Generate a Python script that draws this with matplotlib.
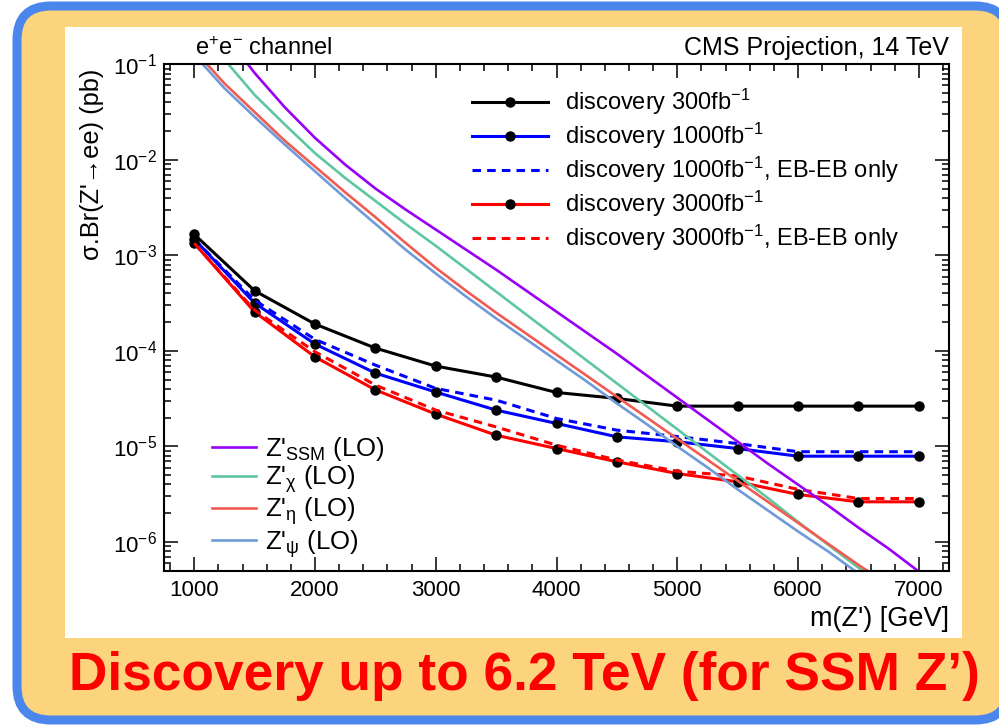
import numpy as np
import matplotlib
matplotlib.use("Agg")
import matplotlib.pyplot as plt
import matplotlib.patches as mpatches
import matplotlib.transforms as mtransforms
from matplotlib.ticker import LogLocator, MultipleLocator, NullFormatter

plt.rcParams['font.family'] = ['Liberation Sans', 'DejaVu Sans']
plt.rcParams['mathtext.fontset'] = 'custom'
plt.rcParams['mathtext.rm'] = 'Liberation Sans'
plt.rcParams['mathtext.it'] = 'Liberation Sans:italic'
plt.rcParams['mathtext.bf'] = 'Liberation Sans:bold'

# discovery reach (pb) vs m(Z')
mass = [1000, 1500, 2000, 2500, 3000, 3500, 4000, 4500, 5000, 5500, 6000, 6500, 7000]
disc_300 = [1.66e-3, 4.26e-4, 1.91e-4, 1.07e-4, 6.93e-5, 5.32e-5, 3.67e-5, 3.18e-5,
            2.64e-5, 2.64e-5, 2.64e-5, 2.64e-5, 2.64e-5]
disc_1000 = [1.48e-3, 3.17e-4, 1.18e-4, 5.86e-5, 3.71e-5, 2.40e-5, 1.74e-5, 1.26e-5,
             1.12e-5, 9.5e-6, 7.9e-6, 7.9e-6, 7.9e-6]
disc_1000_ebeb = [1.48e-3, 3.40e-4, 1.32e-4, 7.1e-5, 4.05e-5, 3.05e-5, 1.96e-5, 1.48e-5,
                  1.27e-5, 1.07e-5, 8.8e-6, 8.8e-6, 8.8e-6]
disc_3000 = [1.34e-3, 2.56e-4, 8.65e-5, 3.91e-5, 2.18e-5, 1.31e-5, 9.5e-6, 6.9e-6,
             5.2e-6, 4.26e-6, 3.14e-6, 2.63e-6, 2.63e-6]
disc_3000_ebeb = [1.34e-3, 2.67e-4, 9.8e-5, 4.39e-5, 2.40e-5, 1.60e-5, 1.03e-5, 7.2e-6,
                  5.5e-6, 4.9e-6, 3.55e-6, 2.85e-6, 2.85e-6]

mass_th = [1000, 1250, 1500, 1750, 2000, 2250, 2500, 2750, 3000, 3250, 3500, 3750, 4000,
           4250, 4500, 4750, 5000, 5250, 5500, 5750, 6000, 6250, 6500, 6750, 7000]
log_ssm = [-0.30, -0.68, -1.09, -1.45, -1.77, -2.05, -2.30, -2.52, -2.73, -2.94, -3.15, -3.37,
           -3.59, -3.81, -4.03, -4.26, -4.49, -4.72, -4.95, -5.18, -5.40, -5.62, -5.85, -6.07, -6.31]
log_chi = [-0.55, -0.95, -1.32, -1.63, -1.93, -2.19, -2.43, -2.67, -2.90, -3.14, -3.38, -3.62,
           -3.86, -4.10, -4.34, -4.58, -4.82, -5.06, -5.30, -5.54, -5.79, -6.03, -6.27, -6.51, -6.75]
log_eta = [-0.85, -1.20, -1.50, -1.80, -2.07, -2.34, -2.60, -2.87, -3.13, -3.37, -3.60, -3.82,
           -4.04, -4.26, -4.48, -4.70, -4.92, -5.14, -5.36, -5.58, -5.80, -6.02, -6.24, -6.45, -6.67]
log_psi = [-0.90, -1.25, -1.55, -1.84, -2.12, -2.40, -2.67, -2.94, -3.19, -3.43, -3.66, -3.88,
           -4.10, -4.32, -4.55, -4.77, -5.00, -5.22, -5.45, -5.67, -5.89, -6.10, -6.33, -6.55, -6.77]

W, H = 999, 726
fig = plt.figure(figsize=(W / 100, H / 100), dpi=100, facecolor='white')
pix = mtransforms.Affine2D().scale(1.0 / W, 1.0 / H) + fig.transFigure

# slide background: rounded yellow box with blue border, white plot panel
box = mpatches.FancyBboxPatch((17, 6), 992, 714, boxstyle='round,pad=0,rounding_size=34',
                              transform=pix, facecolor='#fdd47e', edgecolor='#4a86ec',
                              linewidth=6.5, zorder=-3)
fig.patches.append(box)
panel = mpatches.Rectangle((65, 88), 897, 611, transform=pix, facecolor='white',
                           edgecolor='none', zorder=-2)
fig.patches.append(panel)

ax = fig.add_axes([164 / W, (H - 570.7) / H, 785 / W, 506.4 / H])
ax.set_facecolor('white')

lw = 2.2
dash = (0, (2.8, 2.0))
ax.plot(mass, disc_300, color='black', lw=lw, marker='o', ms=6.5, mfc='black', mec='black',
        label='discovery 300fb$^{-1}$')
ax.plot(mass, disc_1000, color='#0000ff', lw=lw, marker='o', ms=6.5, mfc='black', mec='black',
        label='discovery 1000fb$^{-1}$')
ax.plot(mass, disc_1000_ebeb, color='#0000ff', lw=lw, ls=dash,
        label='discovery 1000fb$^{-1}$, EB-EB only')
ax.plot(mass, disc_3000, color='#ff0000', lw=lw, marker='o', ms=6.5, mfc='black', mec='black',
        label='discovery 3000fb$^{-1}$')
ax.plot(mass, disc_3000_ebeb, color='#ff0000', lw=lw, ls=dash,
        label='discovery 3000fb$^{-1}$, EB-EB only')
disc_handles = ax.get_lines()[:5]

th = []
th += ax.plot(mass_th, 10.0 ** np.array(log_ssm), color='#9b00f6', lw=1.9, label="Z'$_{\\mathrm{SSM}}$ (LO)")
th += ax.plot(mass_th, 10.0 ** np.array(log_chi), color='#5ec7a0', lw=1.9, label="Z'$_{\\mathrm{\u03c7}}$ (LO)")
th += ax.plot(mass_th, 10.0 ** np.array(log_eta), color='#f25b52', lw=1.9, label="Z'$_{\\mathrm{\u03b7}}$ (LO)")
th += ax.plot(mass_th, 10.0 ** np.array(log_psi), color='#6f9bd8', lw=1.9, label="Z'$_{\\mathrm{\u03c8}}$ (LO)")

ax.set_yscale('log')
ax.set_xlim(750, 7250)
ax.set_ylim(5e-7, 0.1)
ax.xaxis.set_major_locator(MultipleLocator(1000))
ax.xaxis.set_minor_locator(MultipleLocator(200))
ax.yaxis.set_major_locator(LogLocator(base=10, numticks=20))
ax.yaxis.set_minor_locator(LogLocator(base=10, subs=np.arange(2, 10), numticks=20))
ax.yaxis.set_minor_formatter(NullFormatter())
ax.tick_params(which='both', direction='in', top=True, right=True, labelsize=16, width=1.1)
ax.tick_params(which='major', length=10)
ax.tick_params(which='minor', length=5)
ax.tick_params(axis='x', pad=7)
ax.tick_params(axis='y', pad=5)
for s in ax.spines.values():
    s.set_linewidth(1.5)

ax.text(0.04, 1.008, 'e$^{+}$e$^{-}$ channel', transform=ax.transAxes, fontsize=17,
        ha='left', va='bottom')
ax.text(1.0, 1.008, 'CMS Projection, 14 TeV', transform=ax.transAxes, fontsize=18,
        ha='right', va='bottom')
ax.text(1.0, -0.095, "m(Z') [GeV]", transform=ax.transAxes, fontsize=19.5, ha='right', va='center')
ax.text(-0.092, 0.992, "\u03c3.Br(Z'\u2192ee) (pb)", transform=ax.transAxes, fontsize=18.3,
        rotation=90, ha='center', va='top')

# discovery legend, one row at a time so the rows are evenly spaced
for i, h in enumerate(disc_handles):
    row = ax.legend(handles=[h], loc='upper left', bbox_to_anchor=(472 / W, 1 - (87 + 34 * i) / H),
                    bbox_transform=fig.transFigure, frameon=False, fontsize=17,
                    handlelength=3.2, handletextpad=0.72, borderpad=0, borderaxespad=0)
    ax.add_artist(row)
ax.legend(handles=th, loc='upper left', bbox_to_anchor=(212 / W, 1 - 435 / H),
          bbox_transform=fig.transFigure, frameon=False, fontsize=18.5,
          handlelength=1.7, handletextpad=0.35, labelspacing=0.02,
          borderpad=0, borderaxespad=0)

fig.text(524 / W, 1 - 676 / H, 'Discovery up to 6.2 TeV (for SSM Z\u2019)', color='#ff0000',
         fontsize=38.3, fontweight='bold', ha='center', va='center')

fig.savefig('out.png', dpi=100, facecolor='white')
